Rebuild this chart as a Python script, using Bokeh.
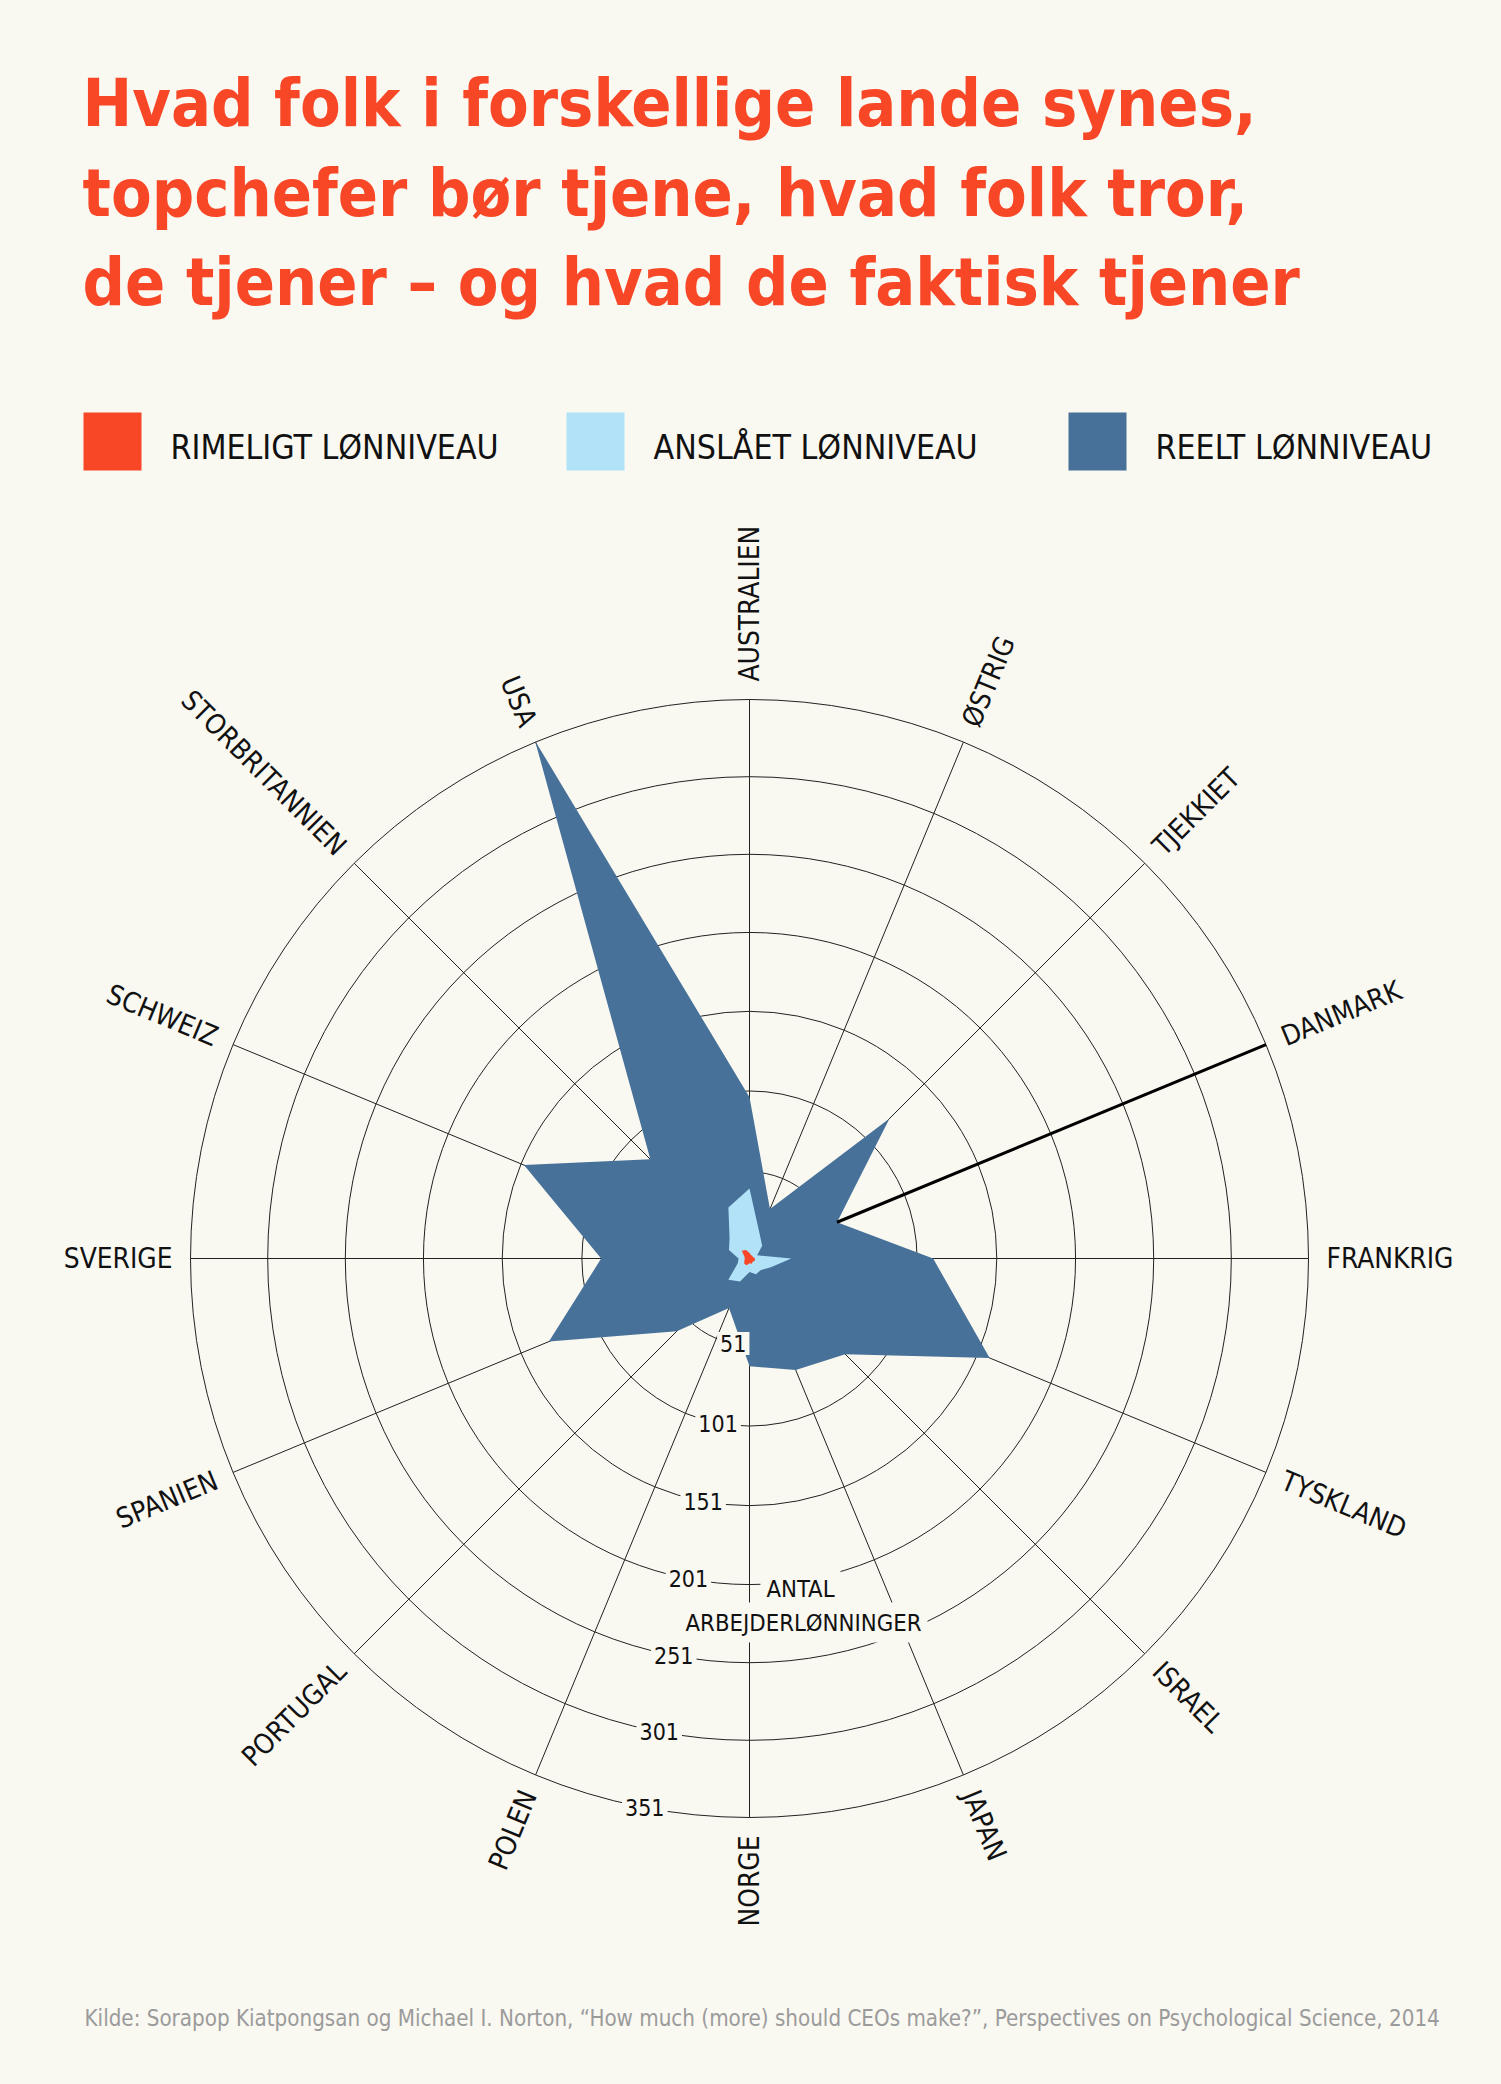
import math
from bokeh.plotting import figure
from bokeh.models import Range1d
from bokeh.embed import file_html
from bokeh.resources import INLINE
from bokeh.core.properties import value

# ---------------- data ----------------
COUNTRIES = ["AUSTRALIEN", "ØSTRIG", "TJEKKIET", "DANMARK", "FRANKRIG", "TYSKLAND",
             "ISRAEL", "JAPAN", "NORGE", "POLEN", "PORTUGAL", "SPANIEN", "SVERIGE",
             "SCHWEIZ", "STORBRITANNIEN", "USA"]
REELT = [97, 31, 120, 56, 111, 159, 81, 72, 64, 31, 61, 132, 89, 149, 84, 352]
ANSLAAET = [41, 15, 10, 4.5, 24, 13, 9, 9.5, 7.5, 14, 17, 7, 6, 12.5, 16, 32]
RIMELIGT = [3, 2, 2, 2, 3, 3, 2.5, 3, 2.5, 4, 4, 3, 2.5, 3, 6, 5]
TICKS = [51, 101, 151, 201, 251, 301, 351]
TICK_LABELS = ["51", "101", "151", "201", "251", "301", "351"]
AXIS_TITLE = ["ANTAL", "ARBEJDERLØNNINGER"]
HIGHLIGHT = "DANMARK"
TITLE_LINES = ["Hvad folk i forskellige lande synes,",
               "topchefer bør tjene, hvad folk tror,",
               "de tjener – og hvad de faktisk tjener"]
LEGEND_LABELS = ["RIMELIGT LØNNIVEAU", "ANSLÅET LØNNIVEAU", "REELT LØNNIVEAU"]
SOURCE = ("Kilde: Sorapop Kiatpongsan og Michael I. Norton, \u201cHow much (more) should CEOs make?\u201d, "
          "Perspectives on Psychological Science, 2014")

# ---------------- style ----------------
BG = "#F9F8F1"
RED = "#F84727"
LIGHT = "#B1E2F8"
DARK = "#477199"
INK = "#111111"
GRID = "#222222"
FONT = value("DejaVu Sans Condensed")

W, H = 1485, 2068
CX, CY = 749, 1258          # centre of radar in page pixels
R_OUT = 559
EXP = 0.967
N = len(COUNTRIES)


def radius(v):
    return R_OUT * (v / TICKS[-1]) ** EXP


def theta(i):
    return math.radians(90 - 360.0 / N * i)


def X(px):
    return px - CX


def Y(py):
    return CY - py


p = figure(width=W, height=H, x_range=Range1d(-CX, W - CX),
           y_range=Range1d(CY - H, CY), output_backend="svg",
           toolbar_location=None, x_axis_type=None, y_axis_type=None, min_border=0)
p.grid.visible = False
p.outline_line_color = None
p.background_fill_color = BG
p.border_fill_color = BG

# grid rings and spokes
p.circle(x=[0] * len(TICKS), y=[0] * len(TICKS), radius=[radius(t) for t in TICKS],
         fill_color=None, line_color=GRID, line_width=1)
p.multi_line(xs=[[0, R_OUT * math.cos(theta(i))] for i in range(N)],
             ys=[[0, R_OUT * math.sin(theta(i))] for i in range(N)],
             line_color=GRID, line_width=1)


def poly(vals):
    xs = [radius(v) * math.cos(theta(i)) for i, v in enumerate(vals)]
    ys = [radius(v) * math.sin(theta(i)) for i, v in enumerate(vals)]
    return xs, ys


for vals, col in [(REELT, DARK), (ANSLAAET, LIGHT), (RIMELIGT, RED)]:
    xs, ys = poly(vals)
    p.patch(xs, ys, fill_color=col, line_color=None)

# highlighted axis (Danmark)
hi = COUNTRIES.index(HIGHLIGHT)
r0 = radius(REELT[hi])
p.line([r0 * math.cos(theta(hi)), R_OUT * math.cos(theta(hi))],
       [r0 * math.sin(theta(hi)), R_OUT * math.sin(theta(hi))],
       line_color="#000000", line_width=3)

# country labels
R_LAB = 577
right = dict(x=[], y=[], text=[], angle=[])
left = dict(x=[], y=[], text=[], angle=[])
for i, c in enumerate(COUNTRIES):
    t = theta(i)
    deg = 90 - 360.0 / N * i
    d = right if -90 < deg <= 90 else left
    d["x"].append(R_LAB * math.cos(t))
    d["y"].append(R_LAB * math.sin(t))
    d["text"].append(c)
    d["angle"].append(t if d is right else t + math.pi)
for src, al in [(right, "left"), (left, "right")]:
    p.text(x="x", y="y", text="text", angle="angle", source=src, text_align=al,
           text_baseline="middle", text_font=FONT, text_font_size="27.8px", text_color=INK)

# tick labels along the bottom axis
ta = math.radians(-90 - 10.8)
p.text(x=[radius(t) * math.cos(ta) for t in TICKS], y=[radius(t) * math.sin(ta) for t in TICKS],
       text=TICK_LABELS, text_align="center", text_baseline="middle", text_font=FONT,
       text_font_size="23px", text_color=INK, background_fill_color=BG, padding=3)

# axis title
p.text(x=[X(800), X(803)], y=[Y(1588), Y(1622)], text=AXIS_TITLE, text_align="center",
       text_baseline="middle", text_font=FONT, text_font_size="23.7px", text_color=INK,
       background_fill_color=BG, padding=6)

# title
p.text(x=[X(82)] * 3, y=[Y(103), Y(192.5), Y(282)], text=TITLE_LINES, text_align="left",
       text_baseline="middle", text_font=FONT, text_font_style="bold",
       text_font_size="66px", text_color=RED)

# legend
sq_left = [83, 566, 1068]
p.quad(left=[X(v) for v in sq_left], right=[X(v + 58) for v in sq_left],
       top=[Y(412)] * 3, bottom=[Y(470)] * 3, fill_color=[RED, LIGHT, DARK], line_color=None)
p.text(x=[X(170), X(653), X(1155)], y=[Y(447)] * 3, text=LEGEND_LABELS, text_align="left",
       text_baseline="middle", text_font=FONT, text_font_size="33.6px", text_color=INK)

# source
p.text(x=[X(84)], y=[Y(2017)], text=[SOURCE], text_align="left", text_baseline="middle",
       text_font=FONT, text_font_size="22.2px", text_color="#9b9b9b")

html = file_html(p, INLINE)
html = html.replace("<head>", "<head><style>html,body{background:%s;}</style>" % BG, 1)
open("out.html", "w").write(html)
